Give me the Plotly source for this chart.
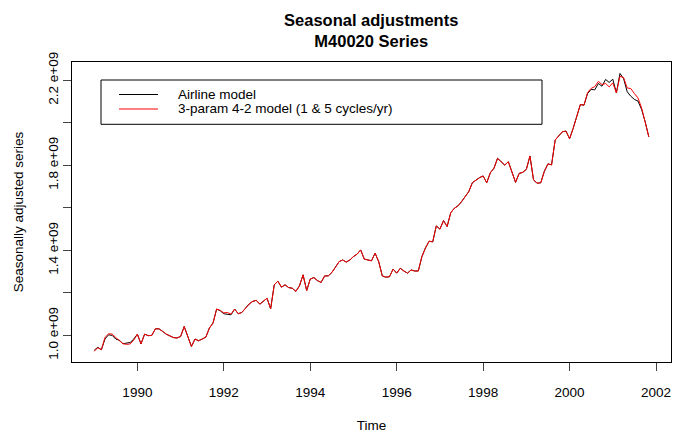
import plotly.graph_objects as go

# Monthly series, Jan 1989 .. Nov 2001 (values in billions)
start_year = 1989
airline = [
    0.930, 0.944, 0.933, 0.983, 1.003, 1.000, 0.983, 0.977, 0.961, 0.964, 0.967, 0.983,
    1.006, 0.960, 1.006, 0.999, 1.000, 1.031, 1.031, 1.019, 1.006, 0.998, 0.990, 0.988,
    0.995, 1.042, 0.995, 0.948, 0.983, 0.975, 0.983, 0.992, 1.035, 1.058, 1.124, 1.116,
    1.102, 1.100, 1.097, 1.124, 1.102, 1.108, 1.127, 1.147, 1.160, 1.165, 1.147, 1.160,
    1.175, 1.125, 1.238, 1.255, 1.227, 1.238, 1.225, 1.222, 1.207, 1.233, 1.285, 1.211,
    1.265, 1.272, 1.258, 1.249, 1.280, 1.280, 1.296, 1.321, 1.347, 1.355, 1.345, 1.355,
    1.371, 1.382, 1.402, 1.359, 1.355, 1.351, 1.387, 1.347, 1.280, 1.274, 1.276, 1.312,
    1.293, 1.316, 1.303, 1.293, 1.308, 1.303, 1.303, 1.371, 1.412, 1.443, 1.440, 1.515,
    1.500, 1.540, 1.512, 1.577, 1.598, 1.609, 1.629, 1.650, 1.676, 1.718, 1.731, 1.742,
    1.750, 1.718, 1.765, 1.786, 1.833, 1.817, 1.801, 1.817, 1.770, 1.720, 1.762, 1.767,
    1.781, 1.844, 1.731, 1.716, 1.718, 1.772, 1.807, 1.802, 1.919, 1.940, 1.958, 1.961,
    1.925, 1.974, 2.030, 2.086, 2.083, 2.138, 2.157, 2.155, 2.185, 2.172, 2.204, 2.190,
    2.205, 2.141, 2.232, 2.208, 2.146, 2.125, 2.110, 2.102, 2.063, 2.005, 1.934,
]
three_param = [
    0.925, 0.942, 0.933, 0.990, 1.008, 1.006, 0.990, 0.977, 0.961, 0.958, 0.960, 0.978,
    1.006, 0.960, 1.006, 0.999, 1.000, 1.031, 1.031, 1.019, 1.006, 0.998, 0.990, 0.988,
    0.995, 1.042, 0.995, 0.948, 0.983, 0.975, 0.983, 0.992, 1.035, 1.058, 1.124, 1.118,
    1.106, 1.108, 1.100, 1.124, 1.102, 1.108, 1.127, 1.147, 1.160, 1.165, 1.147, 1.160,
    1.175, 1.125, 1.238, 1.255, 1.227, 1.238, 1.225, 1.222, 1.207, 1.233, 1.285, 1.211,
    1.265, 1.272, 1.258, 1.249, 1.280, 1.280, 1.296, 1.321, 1.347, 1.355, 1.345, 1.355,
    1.371, 1.382, 1.402, 1.359, 1.355, 1.351, 1.387, 1.347, 1.280, 1.274, 1.276, 1.312,
    1.293, 1.316, 1.303, 1.293, 1.308, 1.303, 1.303, 1.371, 1.412, 1.443, 1.440, 1.515,
    1.500, 1.540, 1.512, 1.577, 1.598, 1.609, 1.629, 1.650, 1.676, 1.718, 1.731, 1.742,
    1.750, 1.718, 1.765, 1.786, 1.833, 1.817, 1.801, 1.817, 1.770, 1.720, 1.762, 1.767,
    1.781, 1.844, 1.731, 1.716, 1.718, 1.772, 1.807, 1.802, 1.919, 1.940, 1.958, 1.961,
    1.925, 1.974, 2.030, 2.086, 2.083, 2.142, 2.162, 2.170, 2.195, 2.180, 2.185, 2.169,
    2.188, 2.141, 2.219, 2.213, 2.164, 2.161, 2.138, 2.117, 2.070, 2.005, 1.934,
]
series_names = ["Airline model", "3-param 4-2 model (1 & 5 cycles/yr)"]
series_colors = ["#000000", "#ff0000"]

x_ticks = [1990, 1992, 1994, 1996, 1998, 2000, 2002]
y_tick_vals = [1.0, 1.2, 1.4, 1.6, 1.8, 2.0, 2.2]
y_tick_text = ["1.0 e+09", "", "1.4 e+09", "", "1.8 e+09", "", "2.2 e+09"]

time = [start_year + i / 12 for i in range(len(airline))]
scale = 1e9

FONT = "Liberation Sans, Arial, Helvetica, sans-serif"

fig = go.Figure()
for vals, name, col in zip([airline, three_param], series_names, series_colors):
    fig.add_trace(go.Scatter(
        x=time, y=[v * scale for v in vals], mode="lines", name=name,
        line=dict(color=col, width=1), showlegend=False,
    ))

W, H = 686, 434
ml, mr, mt, mb = 72, 15, 62, 72
pw, ph = W - ml - mr, H - mt - mb

def px_x(p):
    return (p - ml) / pw

def px_y(p):
    return (H - mb - p) / ph

fig.update_layout(
    width=W, height=H,
    margin=dict(l=ml, r=mr, t=mt, b=mb, pad=0, autoexpand=False),
    paper_bgcolor="white", plot_bgcolor="white",
    font=dict(family=FONT, size=13.5, color="black"),
    title=dict(
        text="<b>Seasonal adjustments</b><br><b>M40020 Series</b>",
        x=371.2 / W, xanchor="center",
        y=1 - 25.5 / H, yanchor="middle", yref="container",
        font=dict(family=FONT, size=16.5, color="black"),
    ),
    xaxis=dict(
        range=[1988.487, 2002.347], tickmode="array", tickvals=x_ticks,
        ticktext=[str(t) for t in x_ticks], automargin=False,
        ticks="outside", ticklen=8, tickcolor="#444", tickwidth=1,
        ticklabelstandoff=10,
        showline=True, linecolor="black", linewidth=1, mirror=True,
        showgrid=False, zeroline=False,
        tickfont=dict(family=FONT, size=13.5, color="black"),
        title=dict(text="Time", standoff=21, font=dict(family=FONT, size=13.5)),
    ),
    yaxis=dict(
        range=[0.875e9, 2.286e9], tickmode="array",
        tickvals=[v * scale for v in y_tick_vals], ticktext=y_tick_text,
        tickangle=-90, automargin=False,
        ticks="outside", ticklen=8, tickcolor="#444", tickwidth=1,
        showline=True, linecolor="black", linewidth=1, mirror=True,
        showgrid=False, zeroline=False,
        tickfont=dict(family=FONT, size=13.5, color="black"),
        title=dict(text="Seasonally adjusted series", standoff=18,
                   font=dict(family=FONT, size=13.5)),
    ),
)

# Legend box (R-style) drawn in the plot area
box_x0, box_x1 = px_x(101), px_x(542)
box_y0, box_y1 = px_y(124.3), px_y(80)
fig.add_shape(type="rect", xref="paper", yref="paper",
              x0=box_x0, x1=box_x1, y0=box_y0, y1=box_y1,
              line=dict(color="black", width=1), fillcolor="white", layer="above")
row_y = [px_y(94.5), px_y(109)]
for ry, name, col in zip(row_y, series_names, series_colors):
    fig.add_shape(type="line", xref="paper", yref="paper",
                  x0=px_x(119), x1=px_x(158), y0=ry, y1=ry,
                  line=dict(color=col, width=1), layer="above")
    fig.add_annotation(xref="paper", yref="paper", x=px_x(176), y=ry,
                       text=name, showarrow=False, xanchor="left", yanchor="middle",
                       font=dict(family=FONT, size=13.5, color="black"))

fig.write_html("out.html")
